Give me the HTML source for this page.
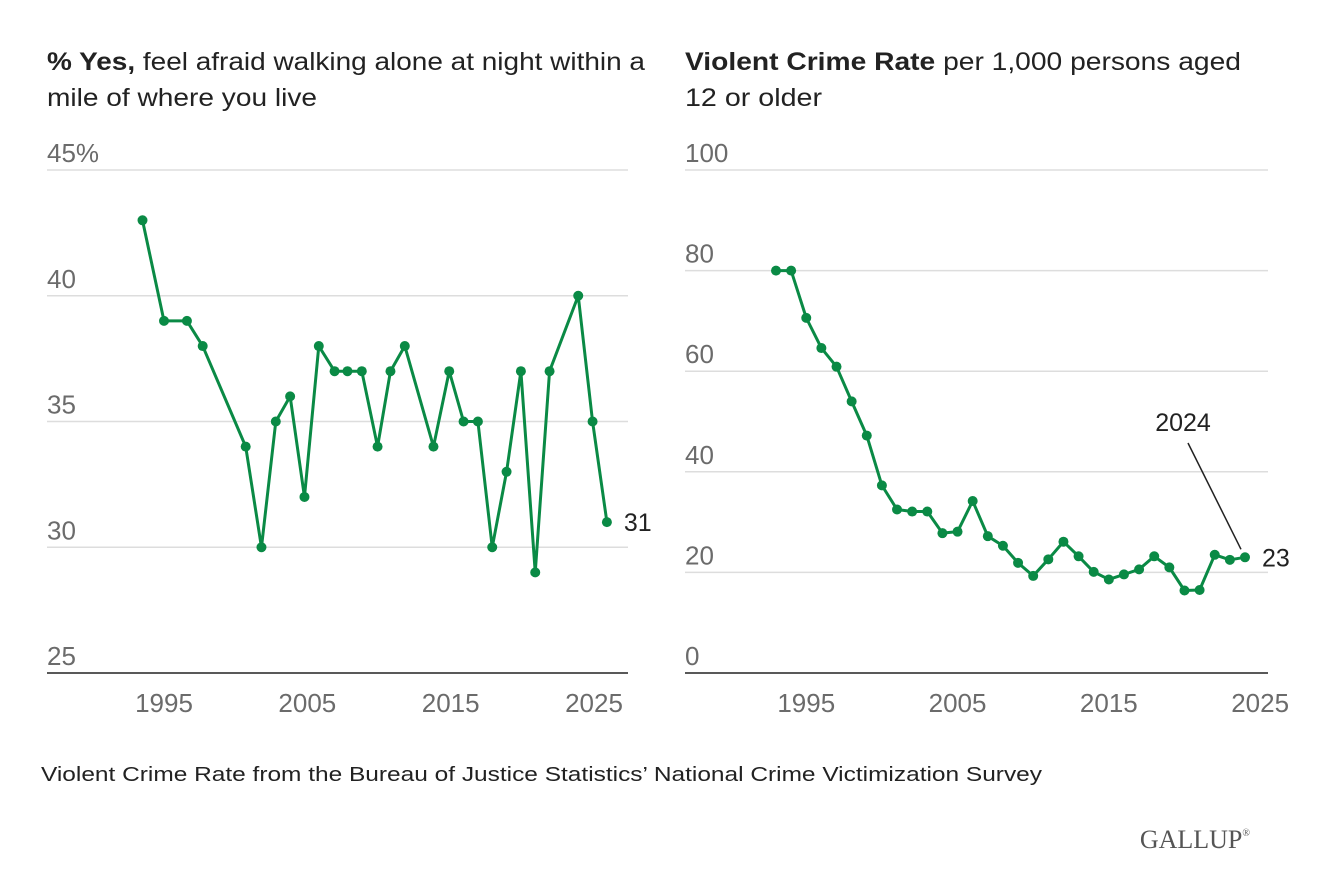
<!DOCTYPE html>
<html><head><meta charset="utf-8"><style>
body{margin:0;background:#fff;font-family:"Liberation Sans",Arial,sans-serif}
svg{display:block}
</style></head><body>
<svg width="1320" height="890">
<g id="left"></g>
<g id="right"></g>
<text x="47" y="70" font-size="25" fill="#222" textLength="598" lengthAdjust="spacingAndGlyphs"><tspan font-weight="bold">% Yes,</tspan> feel afraid walking alone at night within a</text>
<text x="47" y="106" font-size="25" fill="#222" textLength="270" lengthAdjust="spacingAndGlyphs">mile of where you live</text>
<text x="685" y="70" font-size="25" fill="#222" textLength="556" lengthAdjust="spacingAndGlyphs"><tspan font-weight="bold">Violent Crime Rate</tspan> per 1,000 persons aged</text>
<text x="685" y="106" font-size="25" fill="#222" textLength="137" lengthAdjust="spacingAndGlyphs">12 or older</text>
<text x="41" y="781" font-size="20" fill="#222" textLength="1001" lengthAdjust="spacingAndGlyphs">Violent Crime Rate from the Bureau of Justice Statistics’ National Crime Victimization Survey</text>
<text x="1250" y="848" font-size="26" fill="#555" text-anchor="end" font-family="Liberation Serif,serif">GALLUP<tspan font-size="10" dy="-12">®</tspan></text>
</svg>
<script>
const fearYears=[1993.5,1995,1996.6,1997.7,2000.7,2001.8,2002.8,2003.8,2004.8,2005.8,2006.9,2007.8,2008.8,2009.9,2010.8,2011.8,2013.8,2014.9,2015.9,2016.9,2017.9,2018.9,2019.9,2020.9,2021.9,2023.9,2024.9,2025.9];
const fearValues=[43,39,39,38,34,30,35,36,32,38,37,37,37,34,37,38,34,37,35,35,30,33,37,29,37,40,35,31];
const fearTicks=[25,30,35,40,45];
const fearTickLabels=["25","30","35","40","45%"];
const crimeYears=[1993,1994,1995,1996,1997,1998,1999,2000,2001,2002,2003,2004,2005,2006,2007,2008,2009,2010,2011,2012,2013,2014,2015,2016,2017,2018,2019,2020,2021,2022,2023,2024];
const crimeValues=[80,80,70.6,64.6,60.9,54,47.2,37.3,32.5,32.1,32.1,27.8,28.1,34.2,27.2,25.3,21.9,19.3,22.6,26.1,23.2,20.1,18.6,19.6,20.6,23.2,21.0,16.4,16.5,23.5,22.5,23];
const crimeTicks=[0,20,40,60,80,100];
const xTicks=[1995,2005,2015,2025];
const NS="http://www.w3.org/2000/svg";
const G="#0a8a45";
function mk(parent,tag,attrs){const e=document.createElementNS(NS,tag);for(const k in attrs)e.setAttribute(k,attrs[k]);parent.appendChild(e);return e;}
function draw(g,cfg){
  const sx=v=>cfg.x0+(v-cfg.xa)*(cfg.x1-cfg.x0)/(cfg.xb-cfg.xa);
  const sy=v=>cfg.y0+(v-cfg.ya)*(cfg.y1-cfg.y0)/(cfg.yb-cfg.ya);
  cfg.yt.forEach((t,i)=>{
    const l=mk(g,'line',{x1:cfg.left,x2:cfg.right,y1:sy(t),y2:sy(t),stroke:i==0?'#222':'#ddd','stroke-width':1.5});
    
    
    const tx=mk(g,'text',{x:cfg.left,y:sy(t)-8,'font-size':26,fill:'#6b6b6b'});
    tx.textContent=cfg.yl[i];
    
    
  });
  xTicks.forEach(t=>{
    const tx=mk(g,'text',{x:sx(t),y:712,'font-size':26,fill:'#6b6b6b','text-anchor':'middle'});
    tx.textContent=t;
    
    
  });
  const pts=cfg.xs.map((x,i)=>sx(x)+','+sy(cfg.ys[i])).join(' ');
  const pl=mk(g,'polyline',{points:pts,fill:'none',stroke:G,'stroke-width':3,'stroke-linejoin':'round'});
  
  
  cfg.xs.forEach((x,i)=>{
    const c=mk(g,'circle',{cx:sx(x),cy:sy(cfg.ys[i]),r:5,fill:G});
    
    
  });
  const n=cfg.xs.length-1;
  const lab=mk(g,'text',{x:sx(cfg.xs[n])+17,y:sy(cfg.ys[n])+9,'font-size':25,fill:'#222'});
  lab.textContent=Math.round(cfg.ys[n]);
  
  
  return {sx,sy};
}
draw(document.getElementById('left'),{x0:164,x1:594,xa:1995,xb:2025,y0:673,y1:170,ya:25,yb:45,left:47,right:628,yt:fearTicks,yl:fearTickLabels,xs:fearYears,ys:fearValues});
const r=draw(document.getElementById('right'),{x0:776,x1:1245,xa:1993,xb:2024,y0:673,y1:170,ya:0,yb:100,left:685,right:1268,yt:crimeTicks,yl:crimeTicks.map(String),xs:crimeYears,ys:crimeValues});
const rg=document.getElementById('right');
const n=crimeYears.length-1;
const ax=r.sx(crimeYears[n]),ay=r.sy(crimeValues[n]);
const al=mk(rg,'line',{x1:1188,y1:443,x2:ax-4,y2:ay-8,stroke:'#222','stroke-width':1.5});


const at=mk(rg,'text',{x:1183,y:431,'font-size':25,fill:'#222','text-anchor':'middle'});
at.textContent='2024';


</script>
</body></html>
